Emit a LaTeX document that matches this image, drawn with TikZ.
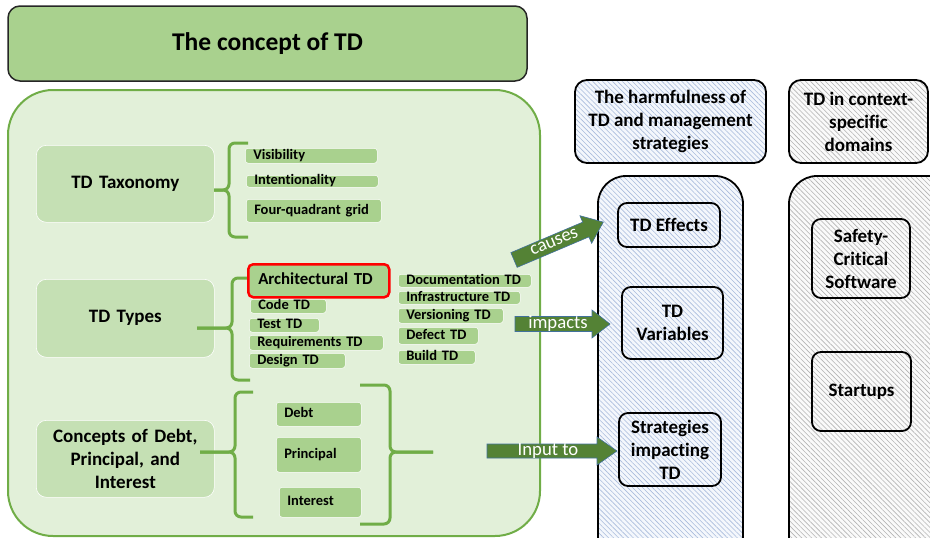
\documentclass[tikz,border=0pt]{standalone}
\usepackage{fontspec}
\setmainfont{Carlito}[Ligatures=NoCommon]
\usetikzlibrary{patterns.meta}
\definecolor{contfill}{HTML}{E2F0D9}
\definecolor{contline}{HTML}{70AD47}
\definecolor{mainbox}{HTML}{C5E0B4}
\definecolor{itembox}{HTML}{A9D18E}
\definecolor{titlefill}{HTML}{A9D18E}
\definecolor{arrowfill}{HTML}{548235}
\definecolor{arrowline}{HTML}{41719C}
\definecolor{bluehatch}{HTML}{A9BBDC}
\definecolor{bluebg}{HTML}{F4F7FC}
\definecolor{grayhatch}{HTML}{B4B4B4}
\definecolor{graybg}{HTML}{FAFAFA}
\begin{document}
\begin{tikzpicture}[x=1pt,y=-1pt,
  titlebox/.style={rounded corners=12pt, fill=titlefill, draw=black!85, line width=1.5pt,
    font=\bfseries\fontsize{25.5}{30}\selectfont, inner sep=0pt},
  container/.style={rounded corners=45pt, fill=contfill, draw=contline, line width=2pt, inner sep=0pt},
  mainnode/.style={rounded corners=10pt, fill=mainbox, draw=white, line width=0.6pt,
    font=\bfseries\fontsize{19}{23}\selectfont, align=center, anchor=north west, inner sep=0pt},
  item/.style={rounded corners=3pt, fill=itembox, draw=white, line width=0.5pt,
    font=\bfseries\fontsize{14.5}{16}\selectfont, align=left, anchor=north west,
    inner xsep=8pt, inner ysep=0pt, text height=9.5pt, text depth=2.5pt},
  archbox/.style={rounded corners=5pt, fill=itembox, draw=red, line width=2.5pt,
    font=\bfseries\fontsize{16.8}{19}\selectfont, align=left, anchor=north west,
    inner xsep=10pt, inner ysep=0pt, text height=11.5pt, text depth=3.5pt},
  brace/.style={draw=contline, line width=3pt, rounded corners=6pt},
  bluepanel/.style={rounded corners=12pt, draw=black, line width=1.8pt, preaction={fill=bluebg},
    pattern={Lines[angle=-45,distance=3.5pt,line width=0.6pt]}, pattern color=bluehatch,
    font=\bfseries\fontsize{19}{23}\selectfont, align=center, inner sep=0pt},
  graypanel/.style={rounded corners=12pt, draw=black, line width=1.8pt, preaction={fill=graybg},
    pattern={Lines[angle=-45,distance=3.5pt,line width=0.6pt]}, pattern color=grayhatch,
    font=\bfseries\fontsize{19}{23}\selectfont, align=center, inner sep=0pt},
  inner/.style={rounded corners=9pt, draw=black, line width=1.8pt,
    font=\bfseries\fontsize{19}{23}\selectfont, align=center, inner sep=0pt},
  barrow/.style={fill=arrowfill, draw=arrowline, line width=0.6pt},
  arrowtext/.style={text=white, font=\fontsize{18.7}{20}\selectfont, inner sep=0pt}
]
\useasboundingbox (0,0) rectangle (930,538);
\clip (0,0) rectangle (930,538);

% title
\node[titlebox, minimum width=519, minimum height=75] (title) at (267.5,43.5) {The concept of TD};

% container
\node[container, minimum width=532, minimum height=446] (cont) at (274,313) {};

% main boxes
\node[mainnode, minimum width=178, minimum height=77, text width=178] (tax) at (36,145) {TD Taxonomy};
\node[mainnode, minimum width=178, minimum height=78, text width=178] (types) at (36,279) {TD Types};
\node[mainnode, minimum width=178, minimum height=77, text width=178] (conc) at (36,420) {Concepts of Debt,\\Principal, and\\Interest};

% braces
\draw[brace] (248,143) -- (229,143) -- (229,190) -- (214,190);
\draw[brace] (214,190) -- (229,190) -- (229,237) -- (248,237);
\draw[brace] (252,278) -- (232,278) -- (232,328) -- (197,328);
\draw[brace] (197,328) -- (232,328) -- (232,380) -- (250,380);
\draw[brace] (253,392) -- (235,392) -- (235,452) -- (200,452);
\draw[brace] (200,452) -- (235,452) -- (235,517) -- (253,517);
\draw[brace] (360,385) -- (390,385) -- (390,452) -- (433,452);
\draw[brace] (433,452) -- (390,452) -- (390,524) -- (360,524);

% taxonomy items
\node[item, minimum height=15, text width=116] (vis) at (245,148) {Visibility};
\node[item, minimum height=12, text width=116] (int) at (246,175) {Intentionality};
\node[item, minimum height=23, text width=119] (fqg) at (246,199) {Four-quadrant grid};

% types items
\node[archbox, minimum height=33, text width=121] (arch) at (247,263) {Architectural TD};
\node[item, minimum height=14, text width=60] (code) at (250,299) {Code TD};
\node[item, minimum height=14, text width=54] (test) at (249,318) {Test TD};
\node[item, minimum height=15, text width=118] (req) at (249,335) {Requirements TD};
\node[item, minimum height=15, text width=80] (des) at (249,353) {Design TD};
\node[item, minimum height=13, text width=117] (doc) at (398,274) {Documentation TD};
\node[item, minimum height=13, text width=106] (inf) at (398,291) {Infrastructure TD};
\node[item, minimum height=15, text width=89] (ver) at (398,308) {Versioning TD};
\node[item, minimum height=17, text width=64] (def) at (398,327) {Defect TD};
\node[item, minimum height=14, text width=61] (bld) at (398,350) {Build TD};

% debt items
\node[item, minimum height=24, text width=69] (debt) at (276,402) {Debt};
\node[item, minimum height=35, text width=69] (prin) at (276,437) {Principal};
\node[item, minimum height=30, text width=66] (intr) at (279,487) {Interest};

% right panels
\node[bluepanel, minimum width=191, minimum height=83] (hdr1) at (670.5,121.5) {The harmfulness of\\TD and management\\strategies};
\node[graypanel, minimum width=139, minimum height=83] (hdr2) at (858.5,121.5) {TD in context-\\specific\\domains};
\node[bluepanel, rounded corners=28pt, minimum width=145, minimum height=400] (pan1) at (670.5,376) {};
\node[graypanel, rounded corners=28pt, minimum width=170, minimum height=400] (pan2) at (874,376) {};

\node[inner, minimum width=102, minimum height=44] (eff) at (669,225) {TD Effects};
\node[inner, minimum width=101, minimum height=72] (var) at (672.5,323) {TD\\Variables};
\node[inner, minimum width=102, minimum height=73] (strat) at (670,449.5) {Strategies\\impacting\\TD};
\node[inner, minimum width=98, minimum height=79] (safe) at (861,258.5) {Safety-\\Critical\\Software};
\node[inner, minimum width=99, minimum height=79] (start) at (861.5,391.5) {Startups};

% block arrows
\begin{scope}[shift={(514,260)}, rotate=23]
  \draw[barrow] (0,-8) -- (78,-8) -- (78,-15) -- (97,0) -- (78,15) -- (78,8) -- (0,8) -- cycle;
  \node[arrowtext, transform shape] (causes) at (44,-1) {causes};
\end{scope}
\begin{scope}[shift={(515,324)}]
  \draw[barrow] (0,-7.5) -- (77,-7.5) -- (77,-14) -- (95,0) -- (77,14) -- (77,7.5) -- (0,7.5) -- cycle;
  \node[arrowtext] (impacts) at (43,0) {impacts};
\end{scope}
\begin{scope}[shift={(487,451)}]
  \draw[barrow] (0,-7) -- (110,-7) -- (110,-14) -- (130,0) -- (110,14) -- (110,7) -- (0,7) -- cycle;
  \node[arrowtext] (inputto) at (61,0) {Input to};
\end{scope}
\end{tikzpicture}
\end{document}
